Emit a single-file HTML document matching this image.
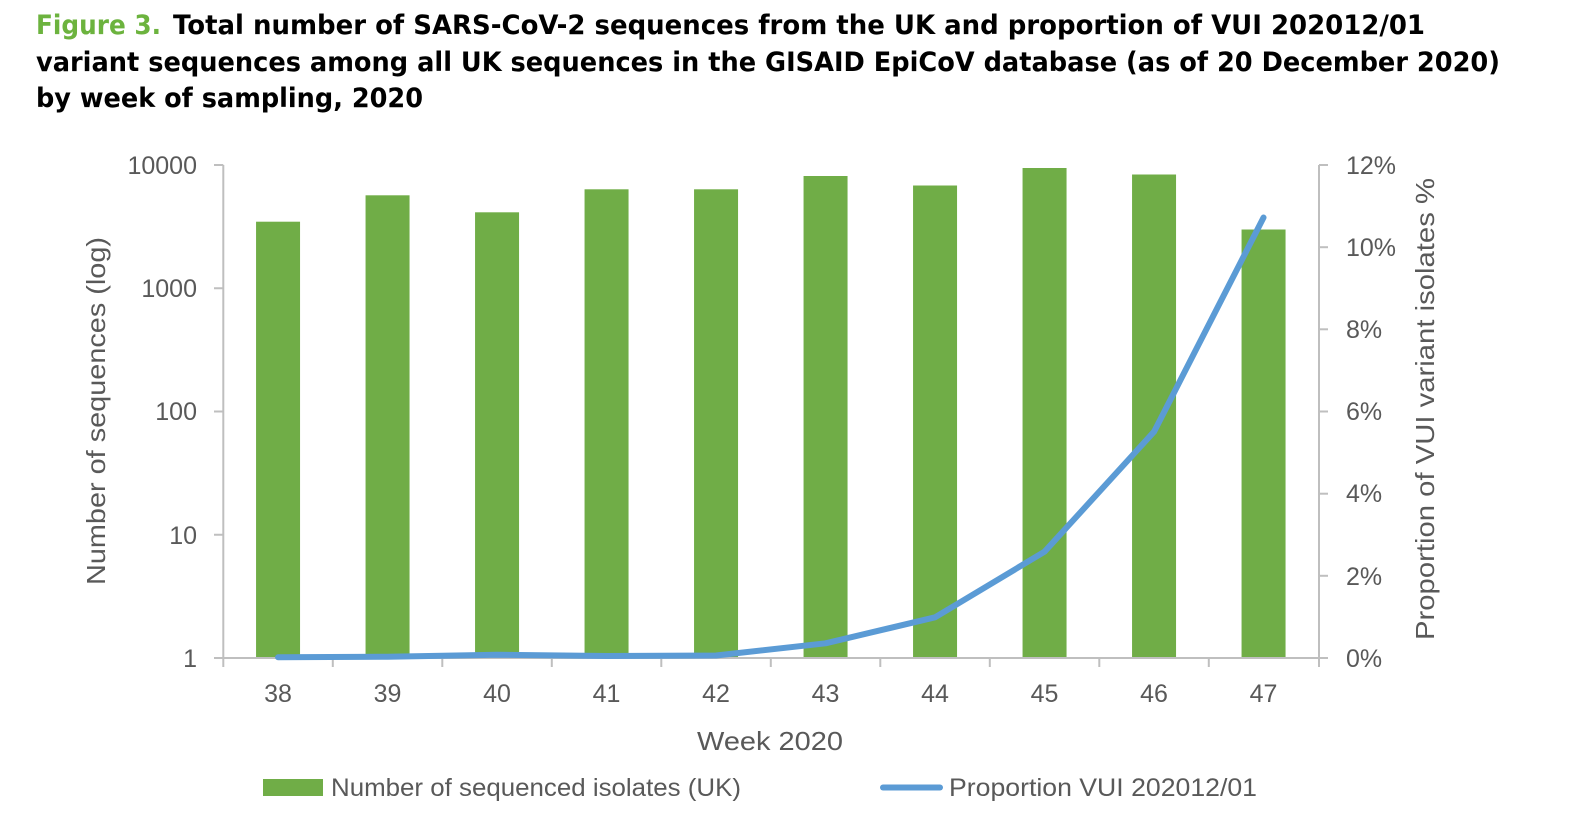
<!DOCTYPE html>
<html>
<head>
<meta charset="utf-8">
<style>
  html, body { margin: 0; padding: 0; background: #ffffff; }
  svg { display: block; }
</style>
</head>
<body>
<svg width="1572" height="830" viewBox="0 0 1572 830" xmlns="http://www.w3.org/2000/svg">
  <rect width="1572" height="830" fill="#ffffff"/>

  <!-- Title -->
  <g font-family="'DejaVu Sans', 'Liberation Sans', sans-serif" font-weight="bold" font-size="27">
    <text x="36" y="34" fill="#6cb33e" textLength="125" lengthAdjust="spacingAndGlyphs">Figure 3.</text>
    <text x="173" y="34" fill="#000000" textLength="1252" lengthAdjust="spacingAndGlyphs">Total number of SARS-CoV-2 sequences from the UK and proportion of VUI 202012/01</text>
    <text x="36" y="71" fill="#000000" textLength="1464" lengthAdjust="spacingAndGlyphs">variant sequences among all UK sequences in the GISAID EpiCoV database (as of 20 December 2020)</text>
    <text x="36" y="107" fill="#000000" textLength="387" lengthAdjust="spacingAndGlyphs">by week of sampling, 2020</text>
  </g>

  <!-- Bars -->
  <g fill="#70AD47">
    <rect x="256.05" y="221.7" width="44" height="436.3"/>
    <rect x="365.55" y="195.3" width="44" height="462.7"/>
    <rect x="475.05" y="212.3" width="44" height="445.7"/>
    <rect x="584.55" y="189.3" width="44" height="468.7"/>
    <rect x="694.05" y="189.3" width="44" height="468.7"/>
    <rect x="803.55" y="176" width="44" height="482"/>
    <rect x="913.05" y="185.5" width="44" height="472.5"/>
    <rect x="1022.55" y="168" width="44" height="490"/>
    <rect x="1132.05" y="174.5" width="44" height="483.5"/>
    <rect x="1241.55" y="229.5" width="44" height="428.5"/>
  </g>

  <!-- Axes -->
  <g stroke="#BFBFBF" stroke-width="2" fill="none">
    <line x1="223.3" y1="165" x2="223.3" y2="659"/>
    <line x1="1319" y1="165" x2="1319" y2="667"/>
    <line x1="214" y1="658" x2="1328" y2="658"/>
    <!-- left ticks -->
    <line x1="214" y1="165" x2="223.3" y2="165"/>
    <line x1="214" y1="288.25" x2="223.3" y2="288.25"/>
    <line x1="214" y1="411.5" x2="223.3" y2="411.5"/>
    <line x1="214" y1="534.75" x2="223.3" y2="534.75"/>
    <!-- right ticks -->
    <line x1="1319" y1="165" x2="1328" y2="165"/>
    <line x1="1319" y1="247.2" x2="1328" y2="247.2"/>
    <line x1="1319" y1="329.3" x2="1328" y2="329.3"/>
    <line x1="1319" y1="411.5" x2="1328" y2="411.5"/>
    <line x1="1319" y1="493.7" x2="1328" y2="493.7"/>
    <line x1="1319" y1="575.8" x2="1328" y2="575.8"/>
    <!-- category ticks -->
    <line x1="223.3" y1="658" x2="223.3" y2="667"/>
    <line x1="332.8" y1="658" x2="332.8" y2="667"/>
    <line x1="442.3" y1="658" x2="442.3" y2="667"/>
    <line x1="551.8" y1="658" x2="551.8" y2="667"/>
    <line x1="661.3" y1="658" x2="661.3" y2="667"/>
    <line x1="770.8" y1="658" x2="770.8" y2="667"/>
    <line x1="880.3" y1="658" x2="880.3" y2="667"/>
    <line x1="989.8" y1="658" x2="989.8" y2="667"/>
    <line x1="1099.3" y1="658" x2="1099.3" y2="667"/>
    <line x1="1208.8" y1="658" x2="1208.8" y2="667"/>
  </g>

  <!-- Line series -->
  <polyline fill="none" stroke="#5B9BD5" stroke-width="6" stroke-linejoin="round" stroke-linecap="round"
    points="278.05,657.3 387.55,656.7 497.05,654.7 606.55,656 716.05,655.5 825.55,643.3 935.05,617.3 1044.55,551.7 1154.05,431.7 1263.55,217.5"/>

  <!-- Tick labels -->
  <g font-family="'Liberation Sans', sans-serif" font-size="25" fill="#595959">
    <g text-anchor="end">
      <text x="197" y="174">10000</text>
      <text x="197" y="297">1000</text>
      <text x="197" y="420">100</text>
      <text x="197" y="544">10</text>
      <text x="197" y="667">1</text>
    </g>
    <g text-anchor="start">
      <text x="1346" y="174">12%</text>
      <text x="1346" y="256">10%</text>
      <text x="1346" y="338">8%</text>
      <text x="1346" y="420">6%</text>
      <text x="1346" y="502">4%</text>
      <text x="1346" y="585">2%</text>
      <text x="1346" y="667">0%</text>
    </g>
    <g text-anchor="middle">
      <text x="278.05" y="702">38</text>
      <text x="387.55" y="702">39</text>
      <text x="497.05" y="702">40</text>
      <text x="606.55" y="702">41</text>
      <text x="716.05" y="702">42</text>
      <text x="825.55" y="702">43</text>
      <text x="935.05" y="702">44</text>
      <text x="1044.55" y="702">45</text>
      <text x="1154.05" y="702">46</text>
      <text x="1263.55" y="702">47</text>
    </g>
  </g>

  <!-- Axis titles -->
  <g font-family="'Liberation Sans', sans-serif" font-size="26" fill="#595959">
    <text x="697" y="750" textLength="146" lengthAdjust="spacingAndGlyphs">Week 2020</text>
    <text transform="translate(105,585) rotate(-90)" x="0" y="0" textLength="348" lengthAdjust="spacingAndGlyphs">Number of sequences (log)</text>
    <text transform="translate(1434,640) rotate(-90)" x="0" y="0" textLength="462" lengthAdjust="spacingAndGlyphs">Proportion of VUI variant isolates %</text>
  </g>

  <!-- Legend -->
  <rect x="263" y="779" width="60" height="17" fill="#70AD47"/>
  <line x1="883" y1="787.5" x2="940" y2="787.5" stroke="#5B9BD5" stroke-width="6" stroke-linecap="round"/>
  <g font-family="'Liberation Sans', sans-serif" font-size="25" fill="#595959">
    <text x="331" y="796" textLength="410" lengthAdjust="spacingAndGlyphs">Number of sequenced isolates (UK)</text>
    <text x="949" y="796" textLength="308" lengthAdjust="spacingAndGlyphs">Proportion VUI 202012/01</text>
  </g>
</svg>
</body>
</html>
